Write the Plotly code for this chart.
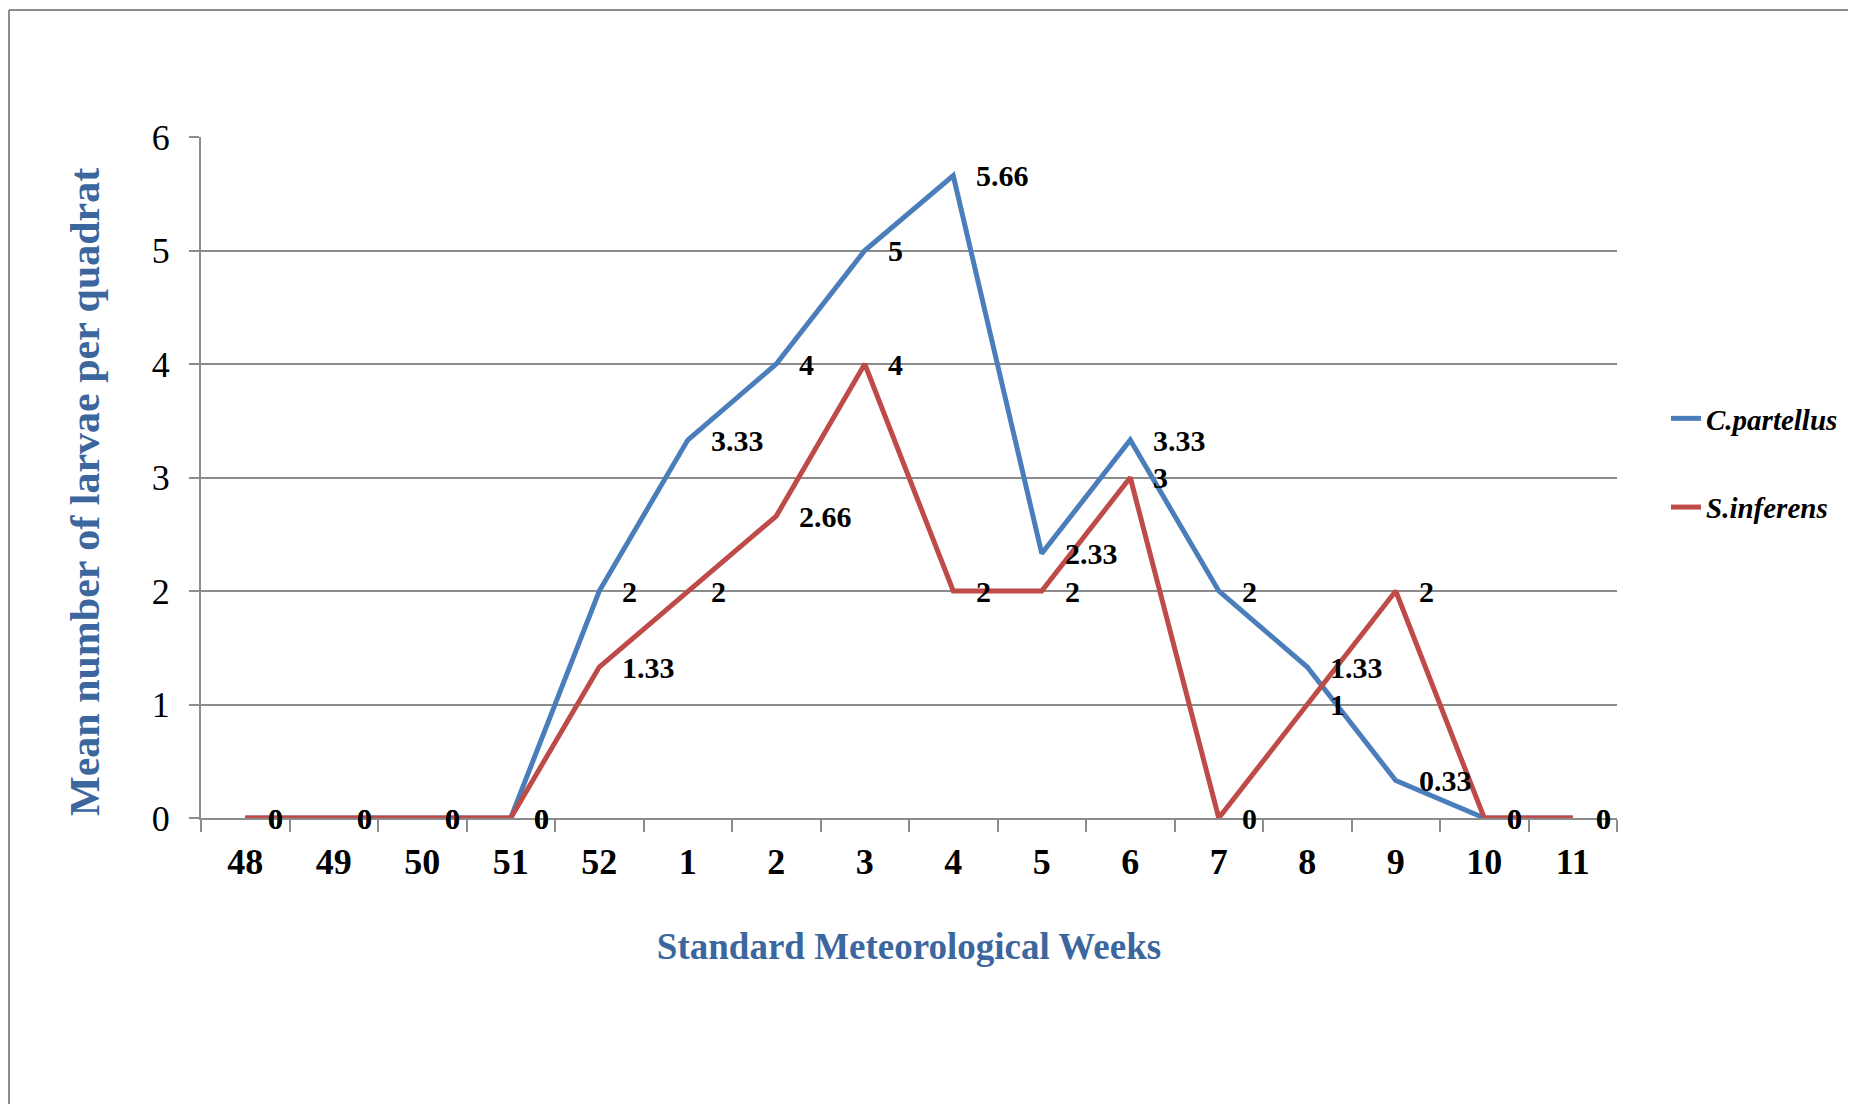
import plotly.graph_objects as go

weeks = ["48", "49", "50", "51", "52", "1", "2", "3", "4", "5", "6", "7", "8", "9", "10", "11"]
c_partellus = [0, 0, 0, 0, 2, 3.33, 4, 5, 5.66, 2.33, 3.33, 2, 1.33, 0.33, 0, 0]
s_inferens = [0, 0, 0, 0, 1.33, 2, 2.66, 4, 2, 2, 3, 0, 1, 2, 0, 0]

W, H = 1856, 1104
OFF = 8  # page body margin
ML, MT = 201 - OFF, 137 - OFF
MR = W - (1617 - OFF)
MB = H - (818 - OFF)
PW, PH = W - ML - MR, H - MT - MB

BLUE = "#4A7EBB"
RED = "#BE4B48"
TITLE_BLUE = "#3C679E"
GRID = "#8C8C8C"
SERIF = "Liberation Serif, Times New Roman, serif"

xpos = list(range(len(weeks)))


def px2paper_x(px):
    return (px - OFF - ML) / PW


def px2paper_y(py):
    return (H - MB - (py - OFF)) / PH


fig = go.Figure()
fig.add_trace(go.Scatter(x=xpos, y=c_partellus, mode="lines", name="C.partellus",
                         line=dict(color=BLUE, width=5), legendgroup="a"))
fig.add_trace(go.Scatter(x=xpos, y=s_inferens, mode="lines", name="S.inferens",
                         line=dict(color=RED, width=5), legendgroup="b"))

annotations = []
for series in (c_partellus, s_inferens):
    for xi, v in zip(xpos, series):
        annotations.append(dict(x=xi, y=v, xref="x", yref="y", text=f"{v:g}",
                                showarrow=False, xanchor="left", yanchor="middle",
                                xshift=21,
                                font=dict(family=SERIF, size=30, color="black", weight="bold")))

annotations.append(dict(x=px2paper_x(85), y=px2paper_y(492), xref="paper", yref="paper",
                        text="Mean number of larvae per quadrat", textangle=-90,
                        showarrow=False, xanchor="center", yanchor="middle",
                        font=dict(family=SERIF, size=42, color=TITLE_BLUE, weight="bold")))

shapes = [
    dict(type="line", xref="paper", yref="paper", x0=px2paper_x(9), x1=px2paper_x(W + OFF),
         y0=px2paper_y(10), y1=px2paper_y(10), line=dict(color=GRID, width=2)),
    dict(type="line", xref="paper", yref="paper", x0=px2paper_x(9), x1=px2paper_x(9),
         y0=px2paper_y(10), y1=px2paper_y(H + OFF), line=dict(color=GRID, width=2)),
]

fig.update_layout(
    width=W, height=H,
    margin=dict(l=ML, r=MR, t=MT, b=MB, autoexpand=False),
    paper_bgcolor="white", plot_bgcolor="white",
    showlegend=True,
    legend=dict(x=px2paper_x(1666), y=px2paper_y(393), xanchor="left", yanchor="top",
                font=dict(family=SERIF, size=29, color="black", weight="bold", style="italic"),
                traceorder="grouped", tracegroupgap=48, bgcolor="rgba(0,0,0,0)"),
    annotations=annotations,
    shapes=shapes,
    xaxis=dict(
        tickmode="array", tickvals=xpos, ticktext=weeks,
        range=[-0.5, len(weeks) - 0.5],
        showgrid=False, zeroline=False,
        showline=True, linecolor=GRID, linewidth=2,
        ticks="",
        tickfont=dict(family=SERIF, size=36, color="black", weight="bold"),
        ticklabelstandoff=11,
        title=dict(text="Standard Meteorological Weeks", standoff=52,
                   font=dict(family=SERIF, size=37, color=TITLE_BLUE, weight="bold")),
        minor=dict(tickmode="array", tickvals=[i + 0.5 for i in range(-1, len(weeks))],
                   ticks="outside", ticklen=12, tickcolor=GRID, tickwidth=2, showgrid=False),
    ),
    yaxis=dict(
        range=[0, 6], dtick=1, tick0=0,
        showgrid=True, gridcolor=GRID, gridwidth=2,
        zeroline=False,
        showline=True, linecolor=GRID, linewidth=2,
        ticks="outside", ticklen=10, tickcolor=GRID, tickwidth=2,
        tickfont=dict(family=SERIF, size=36, color="black"),
        ticklabelstandoff=12,
    ),
)

fig.write_html("out.html")
